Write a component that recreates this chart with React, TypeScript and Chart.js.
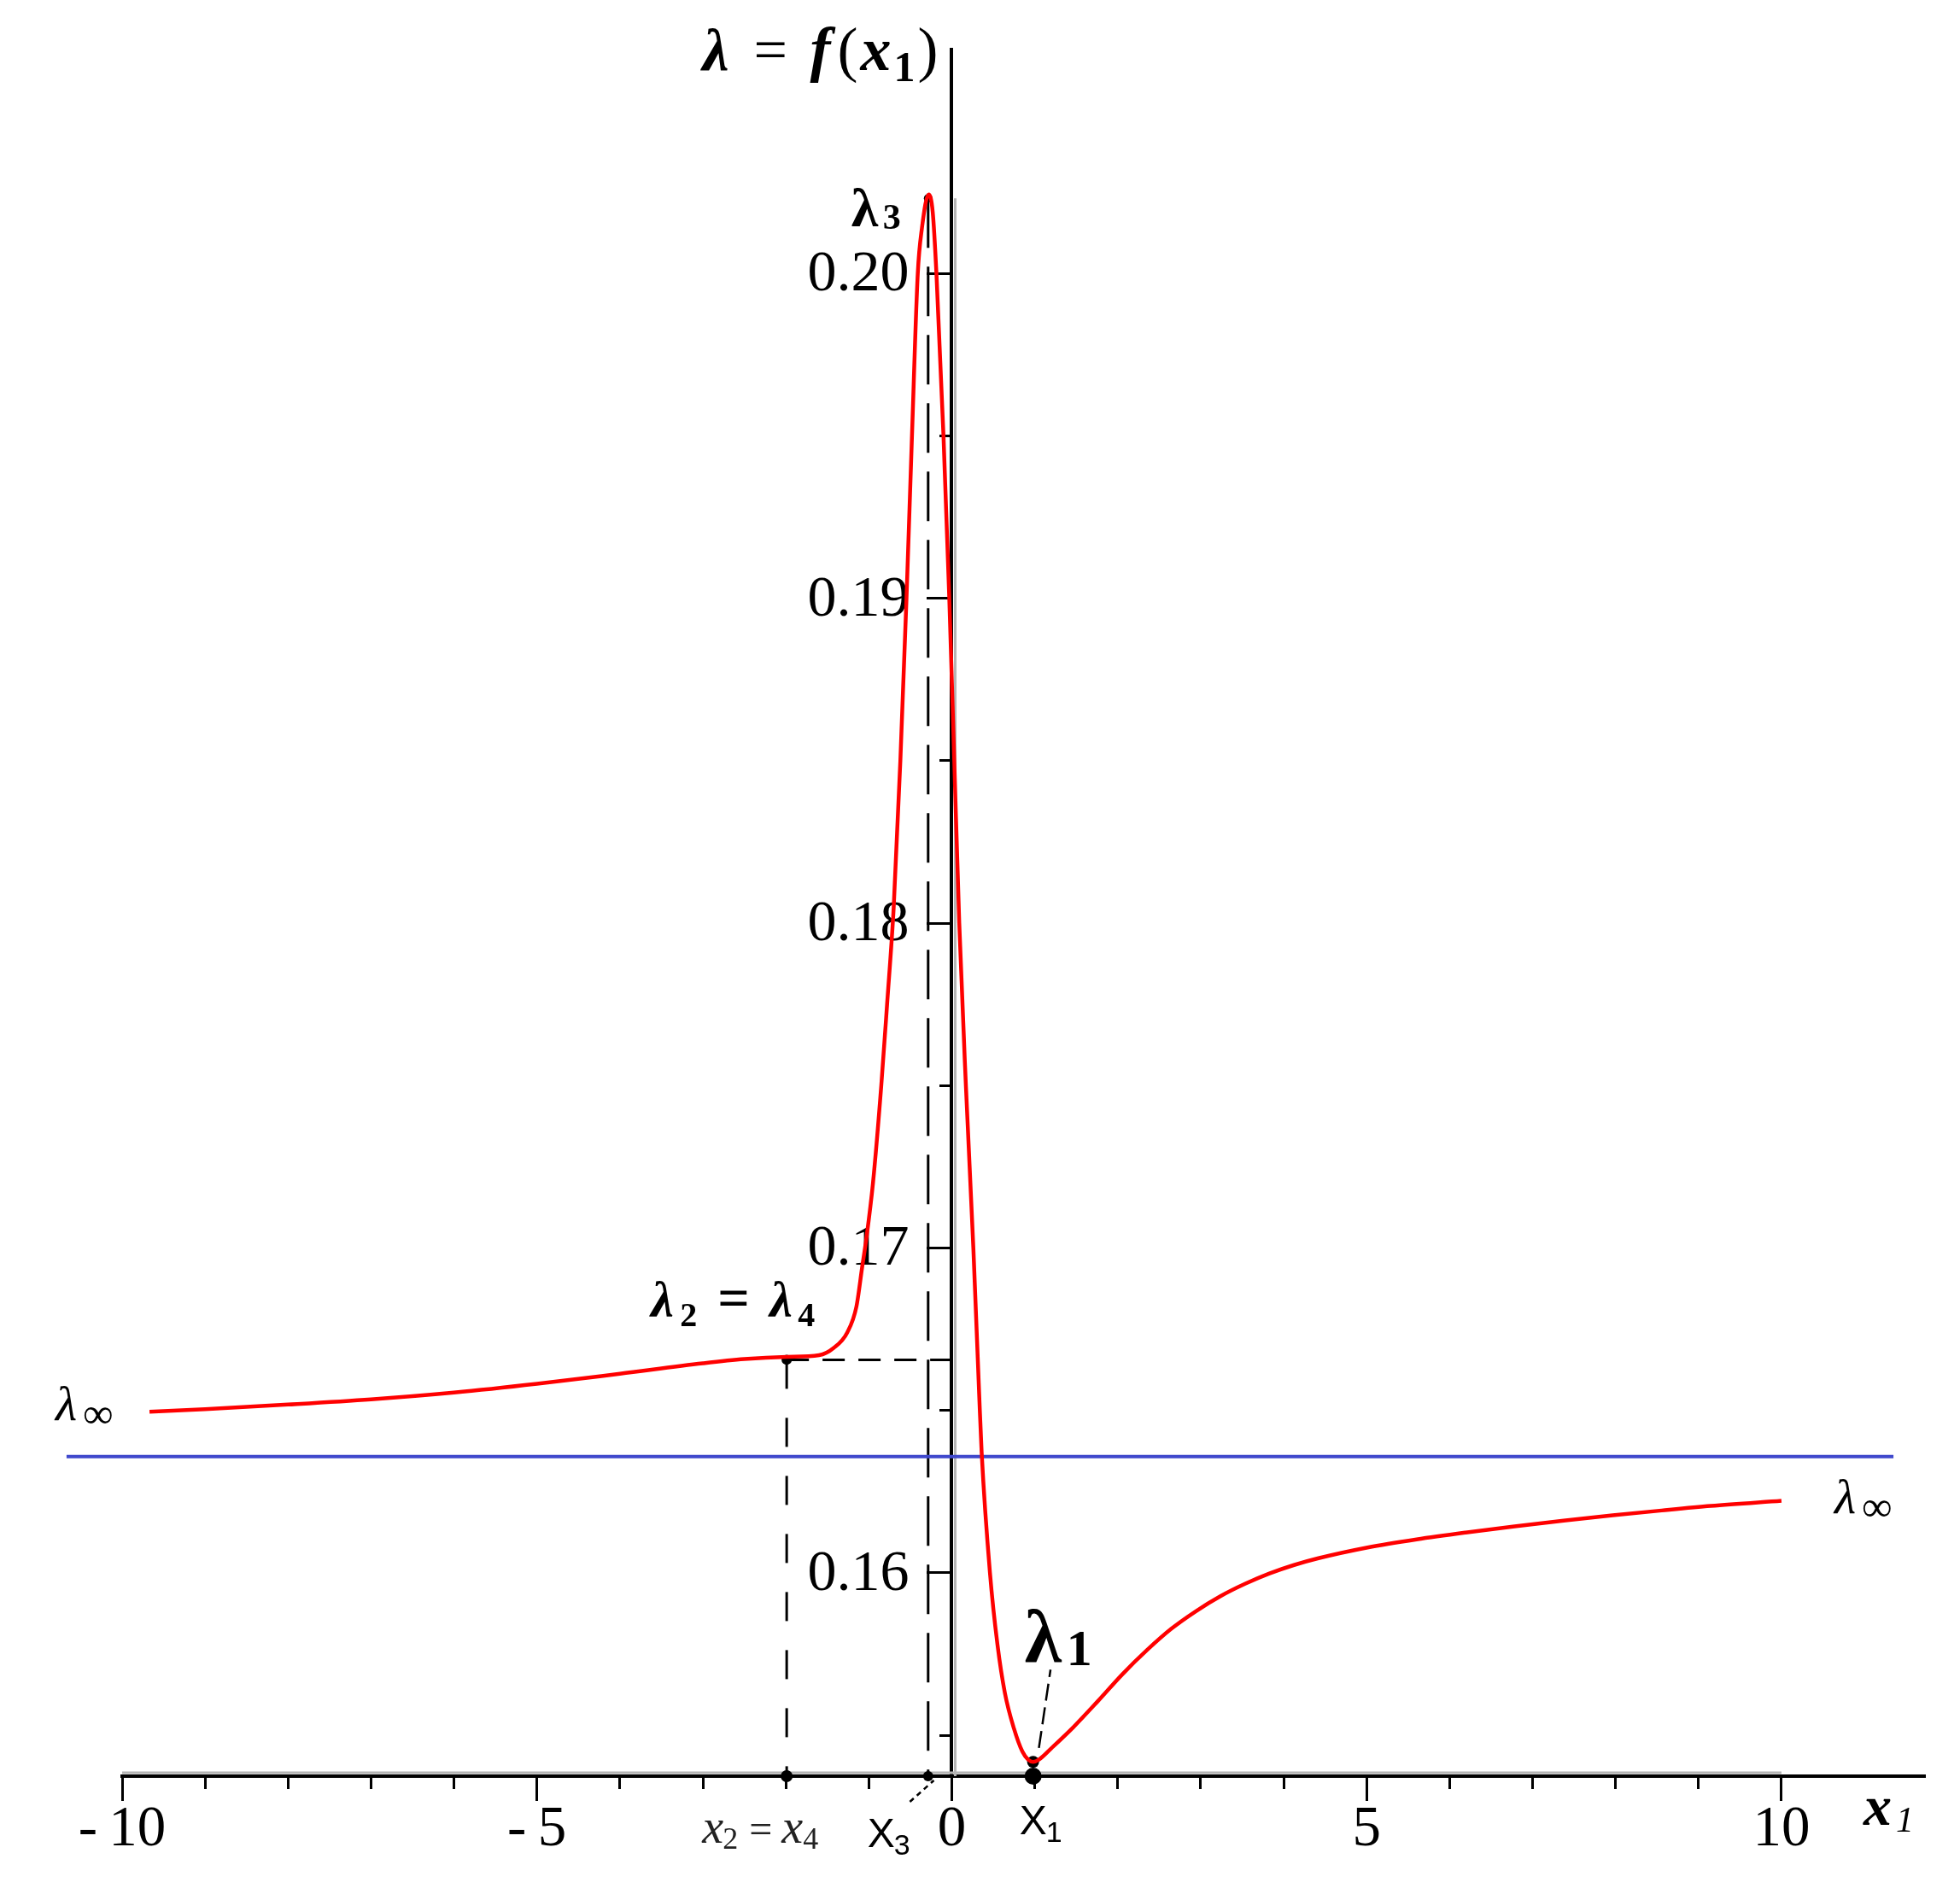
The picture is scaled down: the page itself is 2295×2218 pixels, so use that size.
import React, { useEffect, useRef } from "react";
import { Chart, registerables } from "chart.js";

Chart.register(...registerables);

// ---------------- data ----------------
const X_MIN = -10;
const X_MAX = 11.73;
const Y_MIN = 0.15374;
const Y_MAX = 0.2069;

// lambda = f(x1)
const curveX = [
  -9.67, -9.0, -8.0, -7.0, -6.0, -5.0, -4.0, -3.0, -2.5, -1.99, -1.6, -1.42,
  -1.26, -1.15, -1.08, -1.03, -0.95, -0.85, -0.78, -0.7, -0.62, -0.546, -0.48, -0.41,
  -0.36, -0.278, -0.23, -0.185, -0.1, -0.03, 0.03, 0.09, 0.17, 0.26, 0.33, 0.36, 0.46,
  0.55, 0.64, 0.75, 0.85, 0.92, 0.98, 1.05, 1.2, 1.466, 1.761, 2.057, 2.352, 2.647,
  2.943, 3.238, 3.534, 3.829, 4.125, 4.42, 5.011, 5.602, 6.193, 6.783, 7.375, 7.966,
  8.557, 9.148, 10.0,
];
const curveY = [
  0.16496, 0.16504, 0.16518, 0.16534, 0.16555, 0.16582, 0.16613, 0.16645, 0.16658,
  0.16665, 0.1667, 0.16693, 0.1674, 0.16819, 0.16942, 0.17029, 0.172, 0.175, 0.1775,
  0.1805, 0.185, 0.19, 0.195, 0.2, 0.2014, 0.20244, 0.2019, 0.2, 0.195, 0.19, 0.185,
  0.18, 0.175, 0.17, 0.1655, 0.1637, 0.16, 0.1578, 0.1563, 0.1552, 0.1545, 0.15425,
  0.15418, 0.15425, 0.1546, 0.15525, 0.15605, 0.15688, 0.15762, 0.15828, 0.15882,
  0.15928, 0.15966, 0.15998, 0.16024, 0.16045, 0.16078, 0.16103, 0.16124, 0.16143,
  0.16161, 0.16177, 0.16192, 0.16206, 0.16222,
];

// horizontal asymptote lambda_inf
const asymptoteX = [-10.67, 11.35];
const asymptoteY = [0.16358, 0.16358];

// special points: X1 (minimum lambda1), X2 = X4 (lambda2 = lambda4), X3 (maximum lambda3)
const specialX = [0.98, -1.99, -0.285];
const specialY = [0.15418, 0.16656, 0.20232];

// leader lines (lambda1 label, X3 label)
const leader1X = [1.05, 1.19];
const leader1Y = [0.15461, 0.15702];
const leader3X = [-0.505, -0.216];
const leader3Y = [0.15295, 0.15361];

// ticks
const xMajorTicks = [-10, -5, 0, 5, 10];
const xMajorLabels = ["-\u200910", "-\u20095", "0", "5", "10"];
const xMinorTicks = [-10, -9, -8, -7, -6, -5, -4, -3, -2, -1, 0, 1, 2, 3, 4, 5, 6, 7, 8, 9, 10];
const yMajorTicks = [0.16, 0.17, 0.18, 0.19, 0.2];
const yMajorLabels = ["0.16", "0.17", "0.18", "0.19", "0.20"];
const yMinorTicks = [0.155, 0.165, 0.175, 0.185, 0.195];

// ---------------- styling ----------------
const SERIF = '"Liberation Serif", "Times New Roman", serif';
const SANS = '"Liberation Sans", Arial, sans-serif';

type Seg = { t: string; font: string; at: number; dy?: number; color?: string };

function drawSegs(ctx: CanvasRenderingContext2D, x: number, y: number, segs: Seg[]) {
  for (const s of segs) {
    ctx.font = s.font;
    ctx.fillStyle = s.color ?? "#000";
    ctx.fillText(s.t, x + s.at, y + (s.dy ?? 0));
  }
}

const pts = (xs: number[], ys: number[]) => xs.map((x, i) => ({ x, y: ys[i] }));

const annotationPlugin = {
  id: "annotations",
  beforeDatasetsDraw(chart: any) {
    const { ctx, scales } = chart;
    const sx = scales.x;
    const sy = scales.y;
    const yb = sy.getPixelForValue(Y_MIN);
    const x0 = sx.getPixelForValue(0);
    ctx.save();
    // light shadow lines along the axes
    ctx.strokeStyle = "#b4b4b4";
    ctx.lineWidth = 3;
    ctx.beginPath();
    ctx.moveTo(sx.getPixelForValue(X_MIN), yb - 4);
    ctx.lineTo(sx.getPixelForValue(10), yb - 4);
    ctx.stroke();
    ctx.beginPath();
    ctx.moveTo(x0 + 4, sy.getPixelForValue(specialY[2]));
    ctx.lineTo(x0 + 4, yb);
    ctx.stroke();
    // y tick labels, right-aligned left of the axis ticks
    ctx.font = `68px ${SERIF}`;
    ctx.fillStyle = "#000";
    ctx.textAlign = "right";
    ctx.textBaseline = "middle";
    sy.ticks.forEach((t: any, i: number) => {
      ctx.fillText(yMajorLabels[i], x0 - 50, sy.getPixelForValue(t.value) + 2);
    });
    ctx.restore();
  },
  afterDatasetsDraw(chart: any) {
    const { ctx, scales, chartArea } = chart;
    const sx = scales.x;
    const sy = scales.y;
    const P = (x: number, y: number) => [sx.getPixelForValue(x), sy.getPixelForValue(y)];
    ctx.save();
    ctx.textBaseline = "alphabetic";
    ctx.textAlign = "left";

    // title  lambda = f(x1)
    const x0 = sx.getPixelForValue(0);
    drawSegs(ctx, x0 - 292, chartArea.top + 24, [
      { t: "λ", font: `bold italic 70px ${SERIF}`, at: 0 },
      { t: "=", font: `70px ${SERIF}`, at: 60 },
      { t: "f", font: `bold italic 72px ${SERIF}`, at: 126 },
      { t: "(", font: `72px ${SERIF}`, at: 158 },
      { t: "x", font: `bold italic 72px ${SERIF}`, at: 185 },
      { t: "1", font: `bold 50px ${SERIF}`, at: 224, dy: 13 },
      { t: ")", font: `72px ${SERIF}`, at: 252 },
    ]);

    // lambda3
    const [p3x, p3y] = P(specialX[2], specialY[2]);
    drawSegs(ctx, p3x - 90, p3y + 33, [
      { t: "λ", font: `bold 64px ${SERIF}`, at: 0 },
      { t: "3", font: `bold 42px ${SERIF}`, at: 37, dy: 3 },
    ]);

    // lambda2 = lambda4
    const [p2x, p2y] = P(specialX[1], specialY[1]);
    drawSegs(ctx, p2x - 159, p2y - 50, [
      { t: "λ", font: `bold italic 60px ${SERIF}`, at: 0 },
      { t: "2", font: `bold 40px ${SERIF}`, at: 34, dy: 11 },
      { t: "=", font: `bold 66px ${SERIF}`, at: 78 },
      { t: "λ", font: `bold italic 60px ${SERIF}`, at: 139 },
      { t: "4", font: `bold 40px ${SERIF}`, at: 172, dy: 11 },
    ]);

    // lambda1
    const [p1x, p1y] = P(specialX[0], specialY[0]);
    drawSegs(ctx, p1x - 10, p1y - 116, [
      { t: "λ", font: `bold 88px ${SERIF}`, at: 0 },
      { t: "1", font: `bold 60px ${SERIF}`, at: 49, dy: 3 },
    ]);

    const yb = sy.getPixelForValue(Y_MIN);
    // X3, X1, x2 = x4 labels under the axis
    drawSegs(ctx, p3x - 71, yb + 83, [
      { t: "X", font: `48px ${SANS}`, at: 0 },
      { t: "3", font: `34px ${SANS}`, at: 31, dy: 9 },
    ]);
    drawSegs(ctx, p1x - 16, yb + 68, [
      { t: "X", font: `48px ${SANS}`, at: 0 },
      { t: "1", font: `34px ${SANS}`, at: 31, dy: 9 },
    ]);
    drawSegs(ctx, p2x - 99, yb + 78, [
      { t: "x", font: `italic 56px ${SERIF}`, at: 0, color: "#222" },
      { t: "2", font: `36px ${SERIF}`, at: 24, dy: 7, color: "#222" },
      { t: "=", font: `48px ${SERIF}`, at: 55, color: "#222" },
      { t: "x", font: `italic 56px ${SERIF}`, at: 93, color: "#222" },
      { t: "4", font: `36px ${SERIF}`, at: 118, dy: 7, color: "#222" },
    ]);

    // lambda_inf labels
    const [aLx, aLy] = P(asymptoteX[0], asymptoteY[0]);
    drawSegs(ctx, aLx - 13, aLy - 43, [
      { t: "λ", font: `italic 58px ${SERIF}`, at: 0 },
      { t: "∞", font: `50px ${SERIF}`, at: 32, dy: 9 },
    ]);
    const [aRx, aRy] = P(asymptoteX[1], asymptoteY[1]);
    drawSegs(ctx, aRx - 69, aRy + 66, [
      { t: "λ", font: `italic 58px ${SERIF}`, at: 0 },
      { t: "∞", font: `50px ${SERIF}`, at: 32, dy: 9 },
    ]);

    // axis label x1
    drawSegs(ctx, chartArea.right - 72, yb + 57, [
      { t: "x", font: `bold italic 66px ${SERIF}`, at: 0 },
      { t: "1", font: `italic 42px ${SERIF}`, at: 38, dy: 8 },
    ]);
    ctx.restore();
  },
};

export default function App() {
  const canvasRef = useRef<HTMLCanvasElement | null>(null);

  useEffect(() => {
    const canvas = canvasRef.current;
    if (!canvas) return;

    const lineBase = { showLine: true, pointRadius: 0, clip: false as any };
    const dashed = { ...lineBase, borderColor: "#000", borderWidth: 3, borderDash: [58, 22] };

    const chart = new Chart(canvas, {
      type: "scatter",
      data: {
        datasets: [
          {
            ...lineBase,
            label: "lambda",
            data: pts(curveX, curveY),
            borderColor: "#ff0000",
            borderWidth: 4.5,
            cubicInterpolationMode: "monotone",
            clip: true as any,
          },
          {
            ...lineBase,
            label: "lambda_inf",
            data: pts(asymptoteX, asymptoteY),
            borderColor: "#3f48cc",
            borderWidth: 4,
          },
          {
            ...dashed,
            label: "x2 guide",
            data: pts([specialX[1], specialX[1]], [specialY[1], Y_MIN]),
            borderDash: [34, 34],
          },
          {
            ...dashed,
            label: "lambda2 guide",
            data: pts([specialX[1], 0], [specialY[1], specialY[1]]),
            borderDash: [26, 16],
          },
          {
            ...dashed,
            label: "x3 guide",
            data: pts([specialX[2], specialX[2]], [specialY[2], Y_MIN]),
          },
          {
            ...dashed,
            label: "lambda1 leader",
            data: pts(leader1X, leader1Y),
            borderWidth: 2.5,
            borderDash: [20, 8],
          },
          {
            ...dashed,
            label: "x3 leader",
            data: pts(leader3X, leader3Y),
            borderWidth: 2.5,
            borderDash: [6, 5],
          },
          {
            label: "points",
            showLine: false,
            clip: false as any,
            data: pts(
              [specialX[2], specialX[1], specialX[1], specialX[2], specialX[0], specialX[0]],
              [specialY[2], specialY[1], Y_MIN, Y_MIN, specialY[0], Y_MIN]
            ),
            pointRadius: [5, 6, 7, 6, 7, 10],
            pointStyle: "circle",
            backgroundColor: "#000",
            borderColor: "#000",
            borderWidth: 0,
          } as any,
        ],
      },
      options: {
        responsive: false,
        animation: false,
        events: [],
        layout: { padding: { left: 143, right: 41, top: 58, bottom: 138 } },
        plugins: { legend: { display: false }, tooltip: { enabled: false } },
        scales: {
          x: {
            type: "linear",
            min: X_MIN,
            max: X_MAX,
            position: { y: Y_MIN } as any,
            grid: { drawOnChartArea: false, drawTicks: true, tickLength: 27, tickWidth: 3, tickColor: "#000" },
            border: { display: true, color: "#000", width: 4 },
            afterBuildTicks: (scale: any) => {
              scale.ticks = xMajorTicks.map((value) => ({ value }));
            },
            ticks: {
              autoSkip: false,
              maxRotation: 0,
              padding: 3,
              color: "#000",
              font: { family: SERIF, size: 67, lineHeight: 1 },
              callback: (_v: any, i: number) => xMajorLabels[i],
            },
          },
          xMinor: {
            type: "linear",
            axis: "x",
            min: X_MIN,
            max: X_MAX,
            position: { y: Y_MIN } as any,
            grid: { drawOnChartArea: false, drawTicks: true, tickLength: 15, tickWidth: 3, tickColor: "#000" },
            border: { display: false },
            afterBuildTicks: (scale: any) => {
              scale.ticks = xMinorTicks.map((value) => ({ value }));
            },
            ticks: { display: false, autoSkip: false },
          } as any,
          y: {
            type: "linear",
            min: Y_MIN,
            max: Y_MAX,
            position: { x: 0 } as any,
            grid: { drawOnChartArea: false, drawTicks: true, tickLength: 27, tickWidth: 3, tickColor: "#000" },
            border: { display: true, color: "#000", width: 4 },
            afterBuildTicks: (scale: any) => {
              scale.ticks = yMajorTicks.map((value) => ({ value }));
            },
            ticks: { display: false, autoSkip: false },
          },
          yMinor: {
            type: "linear",
            axis: "y",
            min: Y_MIN,
            max: Y_MAX,
            position: { x: 0 } as any,
            grid: { drawOnChartArea: false, drawTicks: true, tickLength: 14, tickWidth: 3, tickColor: "#000" },
            border: { display: false },
            afterBuildTicks: (scale: any) => {
              scale.ticks = yMinorTicks.map((value) => ({ value }));
            },
            ticks: { display: false, autoSkip: false },
          } as any,
        },
      },
      plugins: [annotationPlugin],
    });

    return () => chart.destroy();
  }, []);

  return (
    <div style={{ position: "absolute", left: 0, top: 0, width: 2295, height: 2218, background: "#fff" }}>
      <canvas ref={canvasRef} width={2295} height={2218} style={{ display: "block", width: 2295, height: 2218 }} />
    </div>
  );
}
